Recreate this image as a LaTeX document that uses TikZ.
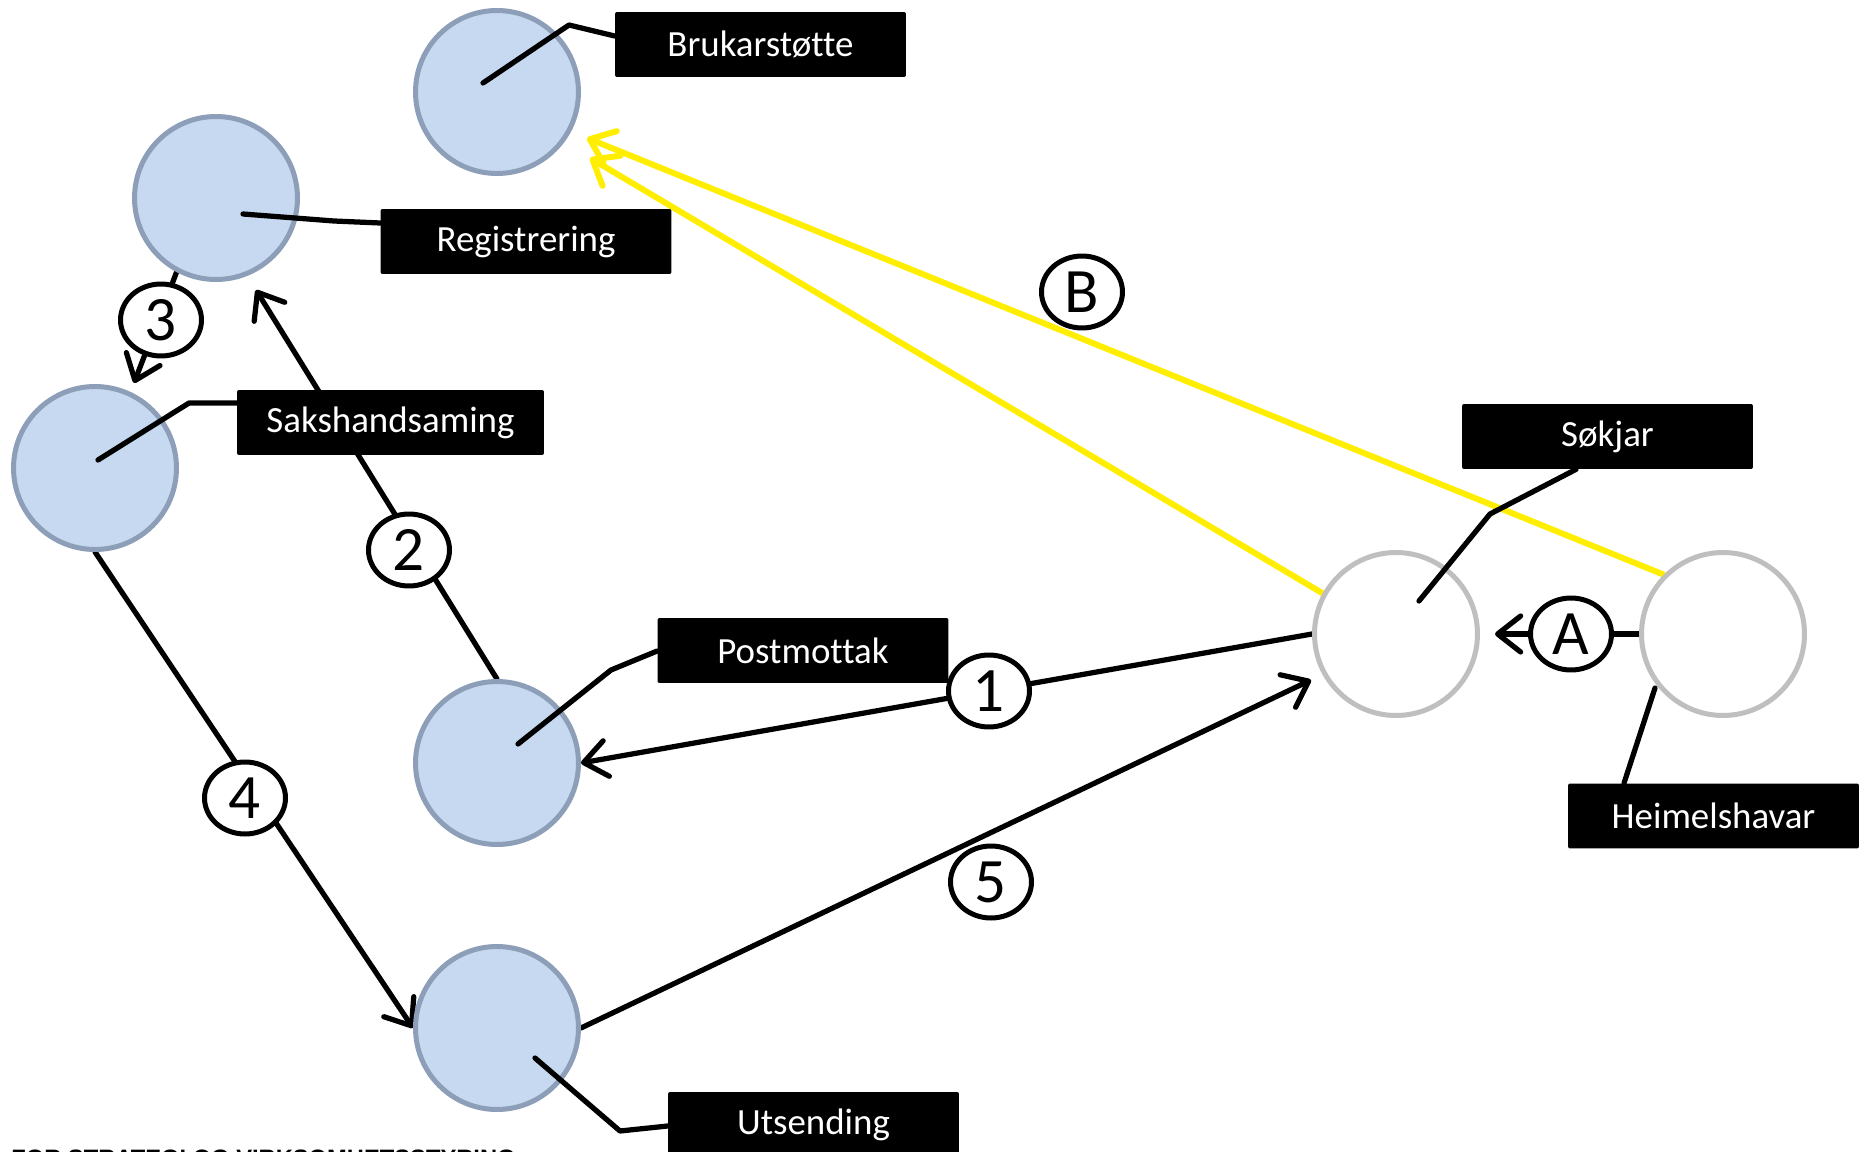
\documentclass[tikz,border=0pt]{standalone}
\usepackage{fontspec}
\setmainfont{Carlito}[Ligatures=NoCommon]
\newfontfamily\arialfont{Liberation Sans}
\usetikzlibrary{arrows.meta,shapes.geometric}
\definecolor{cfill}{RGB}{198,217,241}
\definecolor{cedge}{RGB}{141,159,184}
\definecolor{gedge}{RGB}{191,191,191}
\definecolor{ylw}{RGB}{255,238,0}
\pgfdeclarelayer{bg}
\pgfsetlayers{bg,main}
\tikzset{
  proc/.style={circle, draw=cedge, fill=cfill, line width=0.1cm, minimum size=3.26cm, inner sep=0pt},
  actor/.style={circle, draw=gedge, fill=white, line width=0.1cm, minimum size=3.26cm, inner sep=0pt},
  tag/.style={rectangle, fill=black, rounded corners=0.04cm, minimum width=5.82cm, minimum height=1.3cm, inner sep=0pt, text=white, font=\fontsize{21}{24}\selectfont},
  num/.style={ellipse, draw=black, fill=white, line width=0.1cm, minimum width=1.62cm, minimum height=1.44cm, inner sep=0pt, font=\fontsize{36}{36}\selectfont},
  leader/.style={draw=black, line width=0.105cm, line join=round, line cap=round},
  arr/.style={draw=black, line width=0.105cm, line cap=round, -{Straight Barb[length=0.46cm,width=0.72cm,round]}},
  yarr/.style={draw=ylw, line width=0.12cm, line cap=round, -{Straight Barb[length=0.44cm,width=0.7cm,round]}}
}
\begin{document}
\begin{tikzpicture}[x=0.02cm,y=-0.02cm]
\useasboundingbox (0,0) rectangle (1870,1152);
\clip (0,0) rectangle (1870,1152);

% process circles
\node[proc] (bru) at (497,92) {};
\node[proc] (reg) at (216,198) {};
\node[proc] (sak) at (95,468) {};
\node[proc] (post) at (497,763) {};
\node[proc] (uts) at (497,1028) {};
% actors
\node[actor] (sok) at (1396,634) {};
\node[actor] (hei) at (1723,634) {};

% arrow target coordinates
\coordinate (t2) at (256,290);
\coordinate (t3) at (134,383);
\coordinate (t5) at (1311,680);
\coordinate (tA) at (1495,634);
\coordinate (yB1) at (590,158);
\coordinate (yB2) at (587,138);

\begin{pgfonlayer}{bg}
  \fill[white] (0,0) rectangle (1870,1152);
  \draw[arr] (sok.west) -- (post.east);
  \draw[arr] (post.north) -- (t2);
  \draw[arr] (reg.242) -- (t3);
  \draw[arr] (sak.south) -- (uts.west);
  \draw[arr] (uts.east) -- (t5);
  \draw[arr] (hei.west) -- (tA);
  \draw[yarr] (sok.151) -- (yB1);
  \draw[yarr] (hei.135) -- (yB2);
\end{pgfonlayer}

% label boxes
\node[tag] (bruBox) at (760.5,44.5) {Brukarstøtte};
\node[tag] (regBox) at (526,241.5) {Registrering};
\node[tag, minimum width=6.14cm] (sakBox) at (390.5,422.5) {Sakshandsaming};
\node[tag] (postBox) at (803,650.5) {Postmottak};
\node[tag] (utsBox) at (813.5,1124.5) {Utsending};
\node[tag] (sokBox) at (1607.5,436.5) {Søkjar};
\node[tag] (heiBox) at (1713.5,816) {Heimelshavar};

% leader lines
\coordinate (bruL) at (483,83);
\coordinate (regL) at (243,214);
\coordinate (sakL) at (98,460);
\coordinate (postL) at (518,744);
\coordinate (utsL) at (535,1058);
\coordinate (sokL) at (1419,601);
\coordinate (heiL) at (1655,688);
\draw[leader] (bruL) -- (569,25) -- (bruBox.west |- 0,36);
\draw[leader] (regL) -- (334,221) -- (regBox.west |- 0,223);
\draw[leader] (sakL) -- (189,403) -- (sakBox.west |- 0,403);
\draw[leader] (postL) -- (611,670) -- (postBox.west |- 0,651);
\draw[leader] (utsL) -- (620,1131) -- (utsBox.west |- 0,1126);
\draw[leader] (sokL) -- (1490,514) -- (sokBox.south -| 1576,0);
\draw[leader] (heiL) -- (heiBox.north -| 1624,0);

% step numbers
\node[num] (n1) at (989,691) {1};
\node[num] (n2) at (409,550) {2};
\node[num] (n3) at (161,320) {3};
\node[num] (n4) at (245,798) {4};
\node[num] (n5) at (991,882) {5};
\node[num] (nA) at (1571,634) {A};
\node[num] (nB) at (1082,292) {B};

% footer (cut off at the lower edge, as in the reference)
\node[anchor=base west, inner sep=0pt, font=\arialfont\bfseries\fontsize{13.5}{14}\selectfont] (foot) at (11,1166) {FOR STRATEGI OG VIRKSOMHETSSTYRING};
\end{tikzpicture}
\end{document}
